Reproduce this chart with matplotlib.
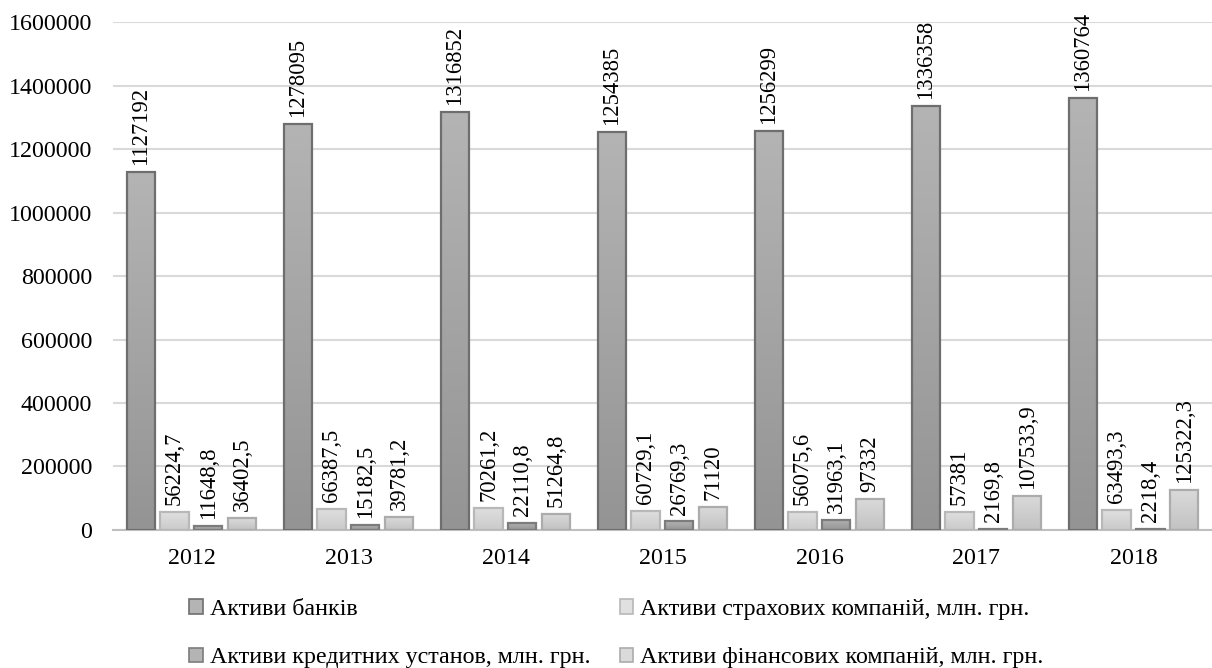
import matplotlib
matplotlib.use("Agg")
import matplotlib.pyplot as plt
import numpy as np
from matplotlib.patches import Patch
from matplotlib.colors import LinearSegmentedColormap

plt.rcParams['font.family'] = ['Liberation Serif', 'DejaVu Serif']

years = ["2012", "2013", "2014", "2015", "2016", "2017", "2018"]
banks = [1127192, 1278095, 1316852, 1254385, 1256299, 1336358, 1360764]
insurance = [56224.7, 66387.5, 70261.2, 60729.1, 56075.6, 57381, 63493.3]
credit = [11648.8, 15182.5, 22110.8, 26769.3, 31963.1, 2169.8, 2218.4]
finance = [36402.5, 39781.2, 51264.8, 71120, 97332, 107533.9, 125322.3]

series_names = [
    "Активи банків",
    "Активи страхових компаній, млн. грн.",
    "Активи кредитних установ, млн. грн.",
    "Активи фінансових компаній, млн. грн.",
]
series = [banks, insurance, credit, finance]
# (top colour, bottom colour, edge colour)
styles = [
    ("#b4b4b4", "#949494", "#6e6e6e"),
    ("#e0e0e0", "#cacaca", "#b8b8b8"),
    ("#b4b4b4", "#949494", "#7c7c7c"),
    ("#dadada", "#c2c2c2", "#acacac"),
]

def fmt(v):
    if float(v).is_integer():
        return str(int(v))
    return f"{v:.1f}".replace(".", ",")

fig = plt.figure(figsize=(12.12, 6.68), dpi=100)
ax = fig.add_axes([0.0932, 0.2066, 0.9068, 0.7604])

x = np.arange(len(years))
width = 0.18
step = 0.215
offsets = (np.arange(4) - 1.5) * step

for i, (vals, (ctop, cbot, cedge)) in enumerate(zip(series, styles)):
    cmap = LinearSegmentedColormap.from_list(f"g{i}", [cbot, ctop])
    bars = ax.bar(x + offsets[i], vals, width, color="none", edgecolor=cedge,
                  linewidth=1.6, zorder=3)
    for b, v in zip(bars, vals):
        x0, y0 = b.get_x(), b.get_y()
        w, h = b.get_width(), b.get_height()
        grad = np.linspace(0, 1, 256).reshape(-1, 1)
        im = ax.imshow(grad, cmap=cmap, origin="lower", aspect="auto",
                       extent=(x0, x0 + w, y0, y0 + h), zorder=2)
        im.set_clip_path(b)
        ax.annotate(fmt(v), (x0 + w / 2, h), xytext=(0, 5),
                    textcoords="offset points", rotation=90,
                    ha="center", va="bottom", fontsize=16.3, zorder=4)

ax.set_xlim(-0.5, len(years) - 0.5)
ax.set_ylim(0, 1600000)
ax.set_yticks(np.arange(0, 1600001, 200000))
ax.set_yticklabels([str(t) for t in range(0, 1600001, 200000)])
ax.set_xticks(x)
ax.set_xticklabels(years)
ax.tick_params(axis="both", length=0, labelsize=17.3)
ax.tick_params(axis="y", pad=15)
ax.tick_params(axis="x", pad=13)
ax.grid(axis="y", color="#d9d9d9", linewidth=1.5, zorder=0)
ax.set_axisbelow(True)
for s in ("top", "right", "left"):
    ax.spines[s].set_visible(False)
ax.spines["bottom"].set_color("#bfbfbf")
ax.spines["bottom"].set_linewidth(1.5)

handles = [Patch(facecolor=(styles[i][0]), edgecolor=styles[i][2], linewidth=1.2,
                 label=series_names[i]) for i in (0, 2, 1, 3)]
fig.legend(handles=handles, ncol=2, loc="center", bbox_to_anchor=(0.5087, 0.0515),
           frameon=False, fontsize=17.3, handlelength=0.55, handleheight=0.55,
           handletextpad=0.3, columnspacing=1.23, labelspacing=1.15)

fig.savefig("out.png", dpi=100)
